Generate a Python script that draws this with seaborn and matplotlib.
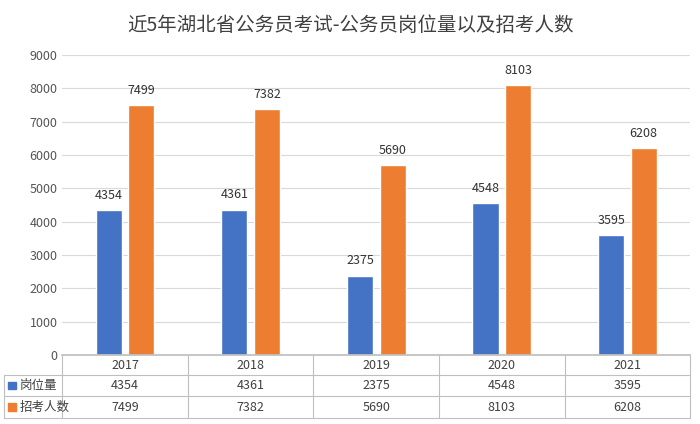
import matplotlib
matplotlib.use("Agg")
import matplotlib.pyplot as plt
import matplotlib.transforms as mtransforms
import seaborn as sns
import pandas as pd

years = ["2017", "2018", "2019", "2020", "2021"]
posts = [4354, 4361, 2375, 4548, 3595]
applicants = [7499, 7382, 5690, 8103, 6208]
series_names = ["岗位量", "招考人数"]
colors = ["#4472C4", "#ED7D31"]

sns.set_theme(style="white")
plt.rcParams['font.family'] = ['Noto Sans CJK SC', 'DejaVu Sans']

df = pd.DataFrame({
    "year": years * 2,
    "value": posts + applicants,
    "series": [series_names[0]] * 5 + [series_names[1]] * 5,
})

fig = plt.figure(figsize=(7, 4.24), dpi=100)
ax = fig.add_axes([0.089, 0.163, 0.897, 0.707])
sns.barplot(data=df, x="year", y="value", hue="series", palette=colors,
            width=0.52, gap=0.2, saturation=1, ax=ax, legend=False)

for cont in ax.containers:
    ax.bar_label(cont, fmt="%d", padding=6, fontsize=9, color="#333333")

ax.set_ylim(0, 9000)
ax.set_yticks(range(0, 9001, 1000))
ax.tick_params(axis="y", labelsize=9, colors="#555555", length=0)
ax.yaxis.grid(True, color="#d9d9d9", linewidth=0.8)
ax.set_axisbelow(True)
ax.set_xlabel("")
ax.set_ylabel("")
ax.set_xticks([])
ax.set_xlim(-0.5, 4.5)
for s in ["top", "right", "left"]:
    ax.spines[s].set_visible(False)
ax.spines["bottom"].set_color("#bfbfbf")

fig.suptitle("近5年湖北省公务员考试-公务员岗位量以及招考人数", y=0.965, fontsize=14, color="#404040")

# data table below the axes
trans = mtransforms.blended_transform_factory(ax.transData, fig.transFigure)
row_y = [0.139, 0.091, 0.040]
line_y = [0.163, 0.116, 0.066, 0.015]
for i, yr in enumerate(years):
    ax.text(i, row_y[0], yr, transform=trans, ha="center", va="center", fontsize=9, color="#404040")
    ax.text(i, row_y[1], str(posts[i]), transform=trans, ha="center", va="center", fontsize=9, color="#404040")
    ax.text(i, row_y[2], str(applicants[i]), transform=trans, ha="center", va="center", fontsize=9, color="#404040")
for x in [i - 0.5 for i in range(6)]:
    ax.plot([x, x], [line_y[0], line_y[-1]], transform=trans, color="#bfbfbf", lw=0.8, clip_on=False)
for y in line_y[1:]:
    fig.add_artist(plt.Line2D([0.005, 0.986], [y, y], color="#bfbfbf", lw=0.8))
fig.add_artist(plt.Line2D([0.005, 0.005], [line_y[1], line_y[-1]], color="#bfbfbf", lw=0.8))
for j, name in enumerate(series_names):
    fig.add_artist(plt.Rectangle((0.012, row_y[j + 1] - 0.009), 0.011, 0.018, color=colors[j]))
    fig.text(0.028, row_y[j + 1], name, ha="left", va="center", fontsize=9, color="#404040")

fig.savefig("out.png", dpi=100)
